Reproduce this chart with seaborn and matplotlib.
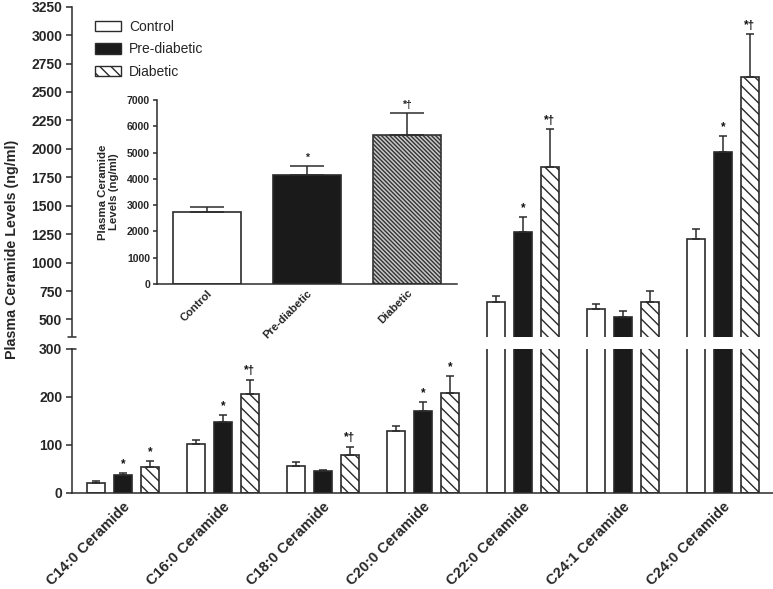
import numpy as np
import pandas as pd
import matplotlib
matplotlib.use("Agg")
import matplotlib.pyplot as plt
import seaborn as sns
from matplotlib.patches import Patch

# ---------------- data ----------------
species = ["C14:0 Ceramide", "C16:0 Ceramide", "C18:0 Ceramide", "C20:0 Ceramide",
           "C22:0 Ceramide", "C24:1 Ceramide", "C24:0 Ceramide"]
groups = ["Control", "Pre-diabetic", "Diabetic"]

control_mean = [21, 102, 56, 129, 652, 590, 1208]
control_sem = [3, 8, 8, 11, 58, 47, 88]
prediab_mean = [37, 148, 46, 171, 1272, 525, 1973]
prediab_sem = [5, 14, 2, 18, 132, 53, 140]
diab_mean = [53, 206, 79, 209, 1844, 657, 2634]
diab_sem = [13, 29, 17, 34, 328, 97, 372]

control_marks = ["", "", "", "", "", "", ""]
prediab_marks = ["*", "*", "", "*", "*", "", "*"]
diab_marks = ["*", "*†", "*†", "*", "*†", "", "*†"]

total_mean = [2721, 4158, 5679]
total_sem = [215, 342, 825]
total_marks = ["", "*", "*†"]

lower_ticks = [0, 100, 200, 300]
upper_ticks = list(range(500, 3251, 250))
inset_ticks = list(range(0, 7001, 1000))

# ---------------- style ----------------
sns.set_style("ticks")
plt.rcParams["font.family"] = ["Liberation Sans", "DejaVu Sans"]
plt.rcParams["hatch.linewidth"] = 1.0

EDGE = "#2b2b2b"
palette = {"Control": "white", "Pre-diabetic": "#1a1a1a", "Diabetic": "white"}
HATCH = "\\\\\\"

df = pd.concat(
    [pd.DataFrame({"species": species, "group": g, "value": m, "sem": s})
     for g, m, s in zip(groups,
                        [control_mean, prediab_mean, diab_mean],
                        [control_sem, prediab_sem, diab_sem])],
    ignore_index=True)
marks = [control_marks, prediab_marks, diab_marks]
means = [control_mean, prediab_mean, diab_mean]
sems = [control_sem, prediab_sem, diab_sem]

W_PX, H_PX = 773, 589
fig = plt.figure(figsize=(W_PX / 100, H_PX / 100), dpi=100)
L = 72 / W_PX
ax_lo = fig.add_axes([L, (H_PX - 492.7) / H_PX, 1 - L, 143.7 / H_PX])
ax_hi = fig.add_axes([L, (H_PX - 336.5) / H_PX, 1 - L, 329.8 / H_PX])

bar_centers = None
for ax in (ax_lo, ax_hi):
    sns.barplot(data=df, x="species", y="value", hue="group", order=species,
                hue_order=groups, palette=palette, width=0.81, gap=1 / 3,
                errorbar=None, saturation=1, edgecolor=EDGE, linewidth=1.2,
                legend=False, ax=ax)
    bar_conts = list(ax.containers[:3])
    for p in bar_conts[2]:
        p.set_hatch(HATCH)
    ax.set_xlim(-0.51, 6.5)
    ax.set_xlabel("")
    ax.set_ylabel("")
    ax.spines["top"].set_visible(False)
    ax.spines["right"].set_visible(False)
    for sp in ax.spines.values():
        sp.set_color(EDGE)
        sp.set_linewidth(1.1)
    ax.tick_params(axis="y", direction="out", length=4, width=1.1,
                   color=EDGE, labelsize=10, pad=3)

    centers = [[p.get_x() + p.get_width() / 2 for p in cont] for cont in bar_conts]
    bar_centers = centers
    for i, xs in enumerate(centers):
        ax.errorbar(xs, means[i], yerr=[np.zeros(len(xs)), sems[i]], fmt="none",
                    ecolor=EDGE, elinewidth=1.1, capsize=3, capthick=1.1, zorder=3)

ax_lo.set_ylim(0, 300)
ax_lo.set_yticks(lower_ticks)
ax_lo.set_yticklabels([str(t) for t in lower_ticks], fontweight="bold")
ax_hi.set_ylim(350, 3250)
ax_hi.set_yticks(upper_ticks)
ax_hi.set_yticklabels([str(t) for t in upper_ticks], fontweight="bold")

ax_hi.spines["bottom"].set_visible(False)
ax_hi.tick_params(axis="x", bottom=False, labelbottom=False)
ax_hi.patch.set_alpha(0)

ax_lo.tick_params(axis="x", length=0, pad=5)
ax_lo.set_xticks(range(len(species)))
ax_lo.set_xticklabels(species, rotation=45, ha="right", va="top",
                      rotation_mode="anchor", fontsize=10.5, fontweight="bold")

# break marks
ax_hi.plot([-0.006, 0.006], [0, 0], transform=ax_hi.transAxes, color=EDGE,
           lw=1.1, clip_on=False)
ax_lo.plot([0, 0.006], [1, 1], transform=ax_lo.transAxes, color=EDGE,
           lw=1.1, clip_on=False)

# significance marks
for i in range(3):
    for j, x in enumerate(bar_centers[i]):
        txt = marks[i][j]
        if not txt:
            continue
        top = means[i][j] + sems[i][j]
        ax = ax_hi if top > 300 else ax_lo
        ax.annotate(txt, xy=(x, top), xytext=(0, 2), textcoords="offset points",
                    ha="center", va="bottom", fontsize=8.5, fontweight="bold",
                    color="#111111")

# legend
handles = [Patch(facecolor="white", edgecolor=EDGE, label="Control"),
           Patch(facecolor="#1a1a1a", edgecolor=EDGE, label="Pre-diabetic"),
           Patch(facecolor="white", edgecolor=EDGE, hatch=HATCH, label="Diabetic")]
fig.legend(handles=handles, loc="upper left",
           bbox_to_anchor=(95 / W_PX, 1 - 20 / H_PX), frameon=False, fontsize=10,
           handlelength=1.9, handleheight=0.75, labelspacing=0.6,
           handletextpad=0.55, borderpad=0, borderaxespad=0)

# y label
fig.text(12 / W_PX, (H_PX - 249) / H_PX, "Plasma Ceramide Levels (ng/ml)",
         rotation=90, ha="center", va="center", fontsize=10.3, fontweight="bold")

# ---------------- inset ----------------
ax_in = fig.add_axes([157 / W_PX, (H_PX - 284) / H_PX, 300 / W_PX, 184 / H_PX])
sns.barplot(x=groups, y=total_mean, hue=groups, palette=palette, width=0.68,
            saturation=1, edgecolor=EDGE, linewidth=1.2, legend=False, ax=ax_in)
in_patches = [p for c in list(ax_in.containers) for p in c]
in_patches[2].set_hatch("\\\\\\\\\\\\\\\\")
in_patches[2].set_facecolor("#c8c8c8")
in_patches[2].set_edgecolor("#333333")
ax_in.set_xlim(-0.5, 2.5)
ax_in.set_ylim(0, 7000)
ax_in.set_yticks(inset_ticks)
ax_in.set_yticklabels([str(t) for t in inset_ticks], fontsize=7.5, fontweight="bold")
xs_in = [p.get_x() + p.get_width() / 2 for p in in_patches]
ax_in.errorbar(xs_in, total_mean, yerr=[np.zeros(3), total_sem], fmt="none",
               ecolor=EDGE, elinewidth=1.1, capsize=12, capthick=1.1, zorder=3)
for x, m, s, t in zip(xs_in, total_mean, total_sem, total_marks):
    if t:
        ax_in.annotate(t, xy=(x, m + s), xytext=(0, 2), textcoords="offset points",
                       ha="center", va="bottom", fontsize=7.5, fontweight="bold")
ax_in.set_xticks(range(3))
ax_in.set_xticklabels(groups, rotation=45, ha="right", va="top",
                      rotation_mode="anchor", fontsize=8, fontweight="bold")
ax_in.tick_params(axis="x", length=0, pad=3)
ax_in.tick_params(axis="y", direction="out", length=3, width=1.1, color=EDGE, pad=2)
ax_in.spines["top"].set_visible(False)
ax_in.spines["right"].set_visible(False)
for sp in ax_in.spines.values():
    sp.set_color(EDGE)
    sp.set_linewidth(1.1)
ax_in.set_xlabel("")
ax_in.set_ylabel("Plasma Ceramide\nLevels (ng/ml)", fontsize=8.2, fontweight="bold",
                 labelpad=6, linespacing=1.1)
ax_in.patch.set_facecolor("white")

fig.savefig("out.png", dpi=100)
